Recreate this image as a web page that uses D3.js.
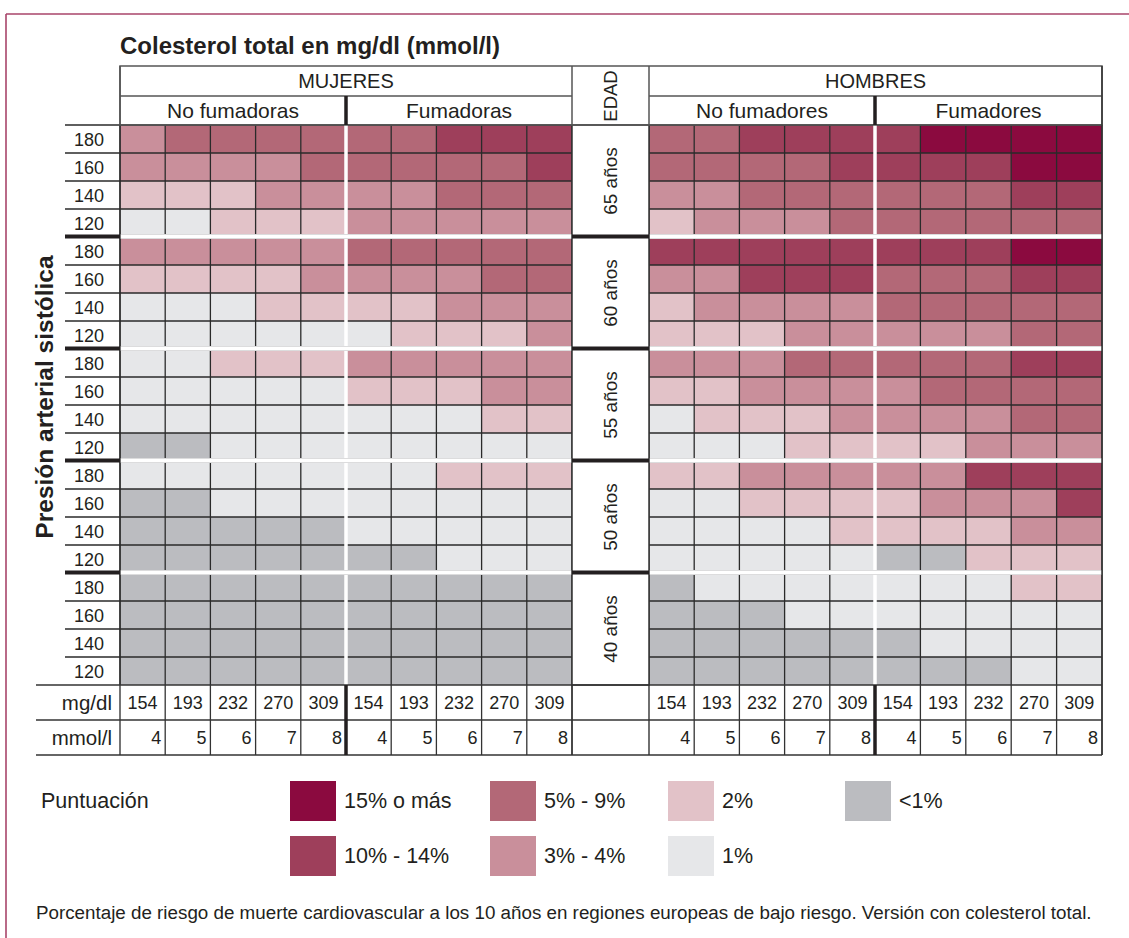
<!DOCTYPE html>
<html><head><meta charset="utf-8">
<script src="https://cdn.jsdelivr.net/npm/d3@7"></script>
<style>
html,body{margin:0;padding:0;background:#fff;}
svg{display:block;font-family:"Liberation Sans",Arial,Helvetica,sans-serif;}
</style></head>
<body>
<script>
// ---------- DATA ----------
const ages = ["65 años","60 años","55 años","50 años","40 años"];
const sbp = [180,160,140,120];
const cholMg = [154,193,232,270,309];
const cholMmol = [4,5,6,7,8];
const riskLabels = ["<1%","1%","2%","3% - 4%","5% - 9%","10% - 14%","15% o más"];
const riskColors = ["#bbbcc0","#e6e7e9","#e2c2c8","#c98f9b","#b36877","#9e3f5b","#8b0a3f"];
// risk level index (0..6) per row (age block x SBP 180,160,140,120) and cholesterol column
const mujeresNoFumadoras = [
  [3,4,4,4,4],[3,3,3,3,4],[2,2,2,3,3],[1,1,2,2,2],
  [3,3,3,3,3],[2,2,2,2,3],[1,1,1,2,2],[1,1,1,1,1],
  [1,1,2,2,2],[1,1,1,1,1],[1,1,1,1,1],[0,0,1,1,1],
  [1,1,1,1,1],[0,0,1,1,1],[0,0,0,0,0],[0,0,0,0,0],
  [0,0,0,0,0],[0,0,0,0,0],[0,0,0,0,0],[0,0,0,0,0]
];
const mujeresFumadoras = [
  [4,4,5,5,5],[4,4,4,4,5],[3,3,4,4,4],[3,3,3,3,3],
  [4,4,4,4,4],[3,3,3,4,4],[2,2,3,3,3],[1,2,2,2,3],
  [3,3,3,3,3],[2,2,2,3,3],[1,1,1,2,2],[1,1,1,1,1],
  [1,1,2,2,2],[1,1,1,1,1],[1,1,1,1,1],[0,0,1,1,1],
  [0,0,0,0,0],[0,0,0,0,0],[0,0,0,0,0],[0,0,0,0,0]
];
const hombresNoFumadores = [
  [4,4,5,5,5],[4,4,4,4,5],[3,3,4,4,4],[2,3,3,3,4],
  [5,5,5,5,5],[3,3,5,5,5],[2,3,3,3,3],[2,2,2,3,3],
  [3,3,3,4,4],[2,2,3,3,3],[1,2,2,2,3],[1,1,1,2,2],
  [2,2,3,3,3],[1,1,2,2,2],[1,1,1,1,2],[1,1,1,1,1],
  [0,1,1,1,1],[0,0,0,1,1],[0,0,0,0,0],[0,0,0,0,0]
];
const hombresFumadores = [
  [5,6,6,6,6],[5,5,5,6,6],[4,4,4,5,5],[4,4,4,4,4],
  [5,5,5,6,6],[4,4,4,5,5],[4,4,4,4,4],[3,3,3,4,4],
  [4,4,4,5,5],[3,4,4,4,4],[3,3,3,4,4],[2,2,3,3,3],
  [3,3,5,5,5],[2,3,3,3,5],[2,2,2,3,3],[0,0,2,2,2],
  [1,1,1,2,2],[1,1,1,1,1],[0,1,1,1,1],[0,0,0,1,1]
];

// ---------- LAYOUT ----------
const W = 1129, H = 938;
const svg = d3.select("body").append("svg").attr("width", W).attr("height", H);
const ink = "#231f20";
const gridTop = 125, gridBottom = 685;
const rowKeys = d3.cross(ages, sbp).map(d => d[0] + "|" + d[1]);
const y = d3.scaleBand().domain(rowKeys).range([gridTop, gridBottom]);
const rh = y.bandwidth();
const blockY = a => y(a + "|180");
const blockH = rh * 4;

const panels = [
  {data: mujeresNoFumadoras, x0: 120, x1: 346},
  {data: mujeresFumadoras,   x0: 346, x1: 572},
  {data: hombresNoFumadores, x0: 649, x1: 875},
  {data: hombresFumadores,   x0: 875, x1: 1102}
];
panels.forEach(p => p.x = d3.scaleBand().domain(cholMg).range([p.x0, p.x1]));
const color = d3.scaleOrdinal().domain(d3.range(riskLabels.length)).range(riskColors);

// outer decorative border
svg.append("line").attr("x1", 6).attr("x2", W).attr("y1", 14).attr("y2", 14)
  .attr("stroke", "#a8456a").attr("stroke-width", 1.6);
svg.append("line").attr("x1", 6).attr("x2", 6).attr("y1", 14).attr("y2", H)
  .attr("stroke", "#a8456a").attr("stroke-width", 1.6);

// title
svg.append("text").attr("x", 120).attr("y", 54).attr("font-size", 24).attr("font-weight", "bold")
  .attr("fill", ink).text("Colesterol total en mg/dl (mmol/l)");

// ---------- CELLS ----------
panels.forEach(p => {
  const g = svg.append("g");
  p.data.forEach((row, ri) => {
    row.forEach((v, ci) => {
      g.append("rect")
        .attr("x", p.x(cholMg[ci])).attr("y", y(rowKeys[ri]))
        .attr("width", p.x.bandwidth()).attr("height", rh)
        .attr("fill", color(v));
    });
  });
  const vx = cholMg.map(c => p.x(c)).concat([p.x1]);
  vx.forEach(xx => g.append("line").attr("x1", xx).attr("x2", xx).attr("y1", gridTop).attr("y2", gridBottom)
    .attr("stroke", "#2a2a2a").attr("stroke-width", 1.3));
  rowKeys.forEach(k => g.append("line").attr("x1", p.x0).attr("x2", p.x1).attr("y1", y(k)).attr("y2", y(k))
    .attr("stroke", "#2a2a2a").attr("stroke-width", 1.3));
});

// white separators between smokers / non smokers
[346, 875].forEach(xx => svg.append("line").attr("x1", xx).attr("x2", xx).attr("y1", gridTop).attr("y2", gridBottom)
  .attr("stroke", "#fff").attr("stroke-width", 3.5));
// white separators between age blocks
ages.slice(1).forEach(a => {
  const yy = blockY(a);
  [[120, 572], [649, 1102]].forEach(([a0, a1]) => {
    svg.append("line").attr("x1", a0).attr("x2", a1).attr("y1", yy - 0.5).attr("y2", yy - 0.5)
      .attr("stroke", "#d0d0d2").attr("stroke-width", 5);
    svg.append("line").attr("x1", a0).attr("x2", a1).attr("y1", yy - 0.5).attr("y2", yy - 0.5)
      .attr("stroke", "#fff").attr("stroke-width", 3.5);
  });
});

// ---------- ROW LABELS ----------
rowKeys.forEach(k => {
  const yy = y(k);
  svg.append("line").attr("x1", 65).attr("x2", 120).attr("y1", yy).attr("y2", yy)
    .attr("stroke", "#2a2a2a").attr("stroke-width", 1.3);
  svg.append("text").attr("x", 104).attr("y", yy + rh / 2 + 6.5).attr("text-anchor", "end")
    .attr("font-size", 18).attr("fill", ink).text(k.split("|")[1]);
});
svg.append("line").attr("x1", 120).attr("x2", 120).attr("y1", 66).attr("y2", 755)
  .attr("stroke", "#2a2a2a").attr("stroke-width", 1.3);

// ---------- EDAD COLUMN ----------
svg.append("rect").attr("x", 572).attr("y", gridTop).attr("width", 77).attr("height", gridBottom - gridTop)
  .attr("fill", "#fff").attr("stroke", "#333").attr("stroke-width", 1.5);
ages.forEach(a => {
  const cy = blockY(a) + blockH / 2;
  svg.append("text").attr("transform", `translate(617,${cy}) rotate(-90)`).attr("text-anchor", "middle")
    .attr("font-size", 19).attr("fill", ink).text(a);
});
ages.slice(1).forEach(a => {
  const yy = blockY(a);
  svg.append("line").attr("x1", 65).attr("x2", 120).attr("y1", yy - 0.5).attr("y2", yy - 0.5)
    .attr("stroke", ink).attr("stroke-width", 4);
  svg.append("line").attr("x1", 572).attr("x2", 649).attr("y1", yy - 0.5).attr("y2", yy - 0.5)
    .attr("stroke", ink).attr("stroke-width", 4);
});

// ---------- HEADER ----------
const hdr = svg.append("g").attr("fill", "none").attr("stroke", "#555").attr("stroke-width", 1.5);
hdr.append("rect").attr("x", 120).attr("y", 66).attr("width", 982).attr("height", 59);
hdr.append("line").attr("x1", 120).attr("x2", 572).attr("y1", 96).attr("y2", 96);
hdr.append("line").attr("x1", 649).attr("x2", 1102).attr("y1", 96).attr("y2", 96);
hdr.append("line").attr("x1", 572).attr("x2", 572).attr("y1", 66).attr("y2", 125);
hdr.append("line").attr("x1", 649).attr("x2", 649).attr("y1", 66).attr("y2", 125);
[346, 875].forEach(xx => svg.append("line").attr("x1", xx).attr("x2", xx).attr("y1", 96).attr("y2", 125)
  .attr("stroke", ink).attr("stroke-width", 3.5));
svg.append("line").attr("x1", 1102).attr("x2", 1102).attr("y1", 66).attr("y2", 755)
  .attr("stroke", "#333").attr("stroke-width", 1.5);

const htext = (x, yy, t, s) => svg.append("text").attr("x", x).attr("y", yy).attr("text-anchor", "middle")
  .attr("font-size", s).attr("fill", ink).text(t);
htext(346, 88, "MUJERES", 20);
htext(875.5, 88, "HOMBRES", 20);
htext(233, 118, "No fumadoras", 21);
htext(459, 118, "Fumadoras", 21);
htext(762, 118, "No fumadores", 21);
htext(988.5, 118, "Fumadores", 21);
svg.append("text").attr("transform", "translate(617,96) rotate(-90)").attr("text-anchor", "middle")
  .attr("font-size", 18.5).attr("fill", ink).text("EDAD");

// y-axis title
svg.append("text").attr("transform", "translate(53,397) rotate(-90)").attr("text-anchor", "middle")
  .attr("font-size", 24.5).attr("font-weight", "bold").attr("fill", ink).text("Presión arterial sistólica");

// ---------- BOTTOM TABLE ----------
const t0 = gridBottom, t1 = 720, t2 = 755;
[t0, t1, t2].forEach(yy => svg.append("line").attr("x1", 36).attr("x2", 1102).attr("y1", yy).attr("y2", yy)
  .attr("stroke", "#333").attr("stroke-width", 1.4));
[572, 649].forEach(xx => svg.append("line").attr("x1", xx).attr("x2", xx).attr("y1", t0).attr("y2", t2)
  .attr("stroke", "#333").attr("stroke-width", 1.4));
svg.append("text").attr("x", 112).attr("y", 710).attr("text-anchor", "end").attr("font-size", 20.5).attr("fill", ink).text("mg/dl");
svg.append("text").attr("x", 112).attr("y", 745).attr("text-anchor", "end").attr("font-size", 20.5).attr("fill", ink).text("mmol/l");
panels.forEach(p => {
  cholMg.forEach((c, i) => {
    const cx = p.x(c), bw = p.x.bandwidth();
    svg.append("line").attr("x1", cx + bw).attr("x2", cx + bw).attr("y1", t0).attr("y2", t2)
      .attr("stroke", "#333").attr("stroke-width", 1.3);
    svg.append("text").attr("x", cx + bw / 2).attr("y", 709).attr("text-anchor", "middle")
      .attr("font-size", 18).attr("fill", ink).text(c);
    svg.append("text").attr("x", cx + bw - 4).attr("y", 744).attr("text-anchor", "end")
      .attr("font-size", 18).attr("fill", ink).text(cholMmol[i]);
  });
});
[346, 875].forEach(xx => svg.append("line").attr("x1", xx).attr("x2", xx).attr("y1", t0).attr("y2", t2)
  .attr("stroke", ink).attr("stroke-width", 3.5));

// ---------- LEGEND ----------
svg.append("text").attr("x", 41).attr("y", 808).attr("font-size", 21.5).attr("fill", ink).text("Puntuación");
const legendOrder = [6, 5, 4, 3, 2, 1, 0];
const legCols = [290, 490, 668, 845];
const legRows = [781, 836];
legendOrder.forEach((lv, i) => {
  const c = Math.floor(i / 2), r = i % 2;
  const lx = legCols[c], ly = legRows[r];
  svg.append("rect").attr("x", lx).attr("y", ly).attr("width", 46).attr("height", 40).attr("fill", color(lv));
  svg.append("text").attr("x", lx + 54).attr("y", ly + 27).attr("font-size", 21.5).attr("fill", ink).text(riskLabels[lv]);
});

// footnote
svg.append("text").attr("x", 36).attr("y", 919).attr("font-size", 18.8).attr("fill", ink)
  .text("Porcentaje de riesgo de muerte cardiovascular a los 10 años en regiones europeas de bajo riesgo. Versión con colesterol total.");
</script>
</body></html>
